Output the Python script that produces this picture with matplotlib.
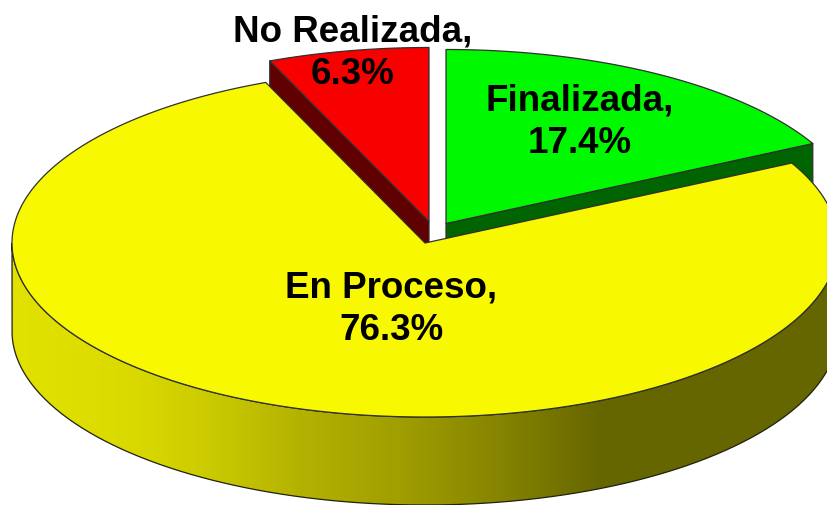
import numpy as np
import matplotlib
matplotlib.use("Agg")
import matplotlib.pyplot as plt
from matplotlib.patches import Polygon, PathPatch
from matplotlib.path import Path

categories = ["Finalizada", "En Proceso", "No Realizada"]
values = [17.4, 76.3, 6.3]

top_colors = ["#00F800", "#F8F800", "#F80000"]
side_colors = ["#006400", "#666600", "#600000"]
apexes = [(446, 223.5), (425, 243), (429, 221.5)]
label_pos = [(580, 122), (391.5, 309.5), (353, 53)]
RX, RY, DEPTH = 413, 174, 88

plt.rcParams["font.family"] = ["Liberation Sans", "DejaVu Sans"]
fig = plt.figure(figsize=(8.28, 5.05), dpi=100)
ax = fig.add_axes([0, 0, 1, 1])
ax.set_axis_off()


def arc(apex, a0, a1, dy=0, n=300):
    t = np.radians(np.linspace(a0, a1, n))
    return np.column_stack([apex[0] + RX * np.sin(t), apex[1] + dy - RY * np.cos(t)])


fracs = np.array(values) / np.sum(values) * 360
edges = np.concatenate([[0], np.cumsum(fracs)])
EDGE = dict(edgecolor="#303030", linewidth=0.9, joinstyle="round")


def top(i, z):
    pts = np.vstack([[apexes[i]], arc(apexes[i], edges[i], edges[i + 1])])
    ax.add_patch(Polygon(pts, closed=True, facecolor=top_colors[i], zorder=z, **EDGE))


def plane(i, angle, z):
    p = arc(apexes[i], angle, angle, n=1)[0]
    a = apexes[i]
    pts = [a, p, (p[0], p[1] + DEPTH), (a[0], a[1] + DEPTH)]
    ax.add_patch(Polygon(pts, closed=True, facecolor=side_colors[i], zorder=z, **EDGE))


# exploded slices behind the main one
plane(0, edges[1], 1)
top(0, 2)
plane(2, edges[2], 1)
top(2, 2)

# gradient outer wall of the large slice
upper = arc(apexes[1], 90, 270)
lower = arc(apexes[1], 270, 90, dy=DEPTH)
wall = np.vstack([upper, lower])
wall_path = Path(np.vstack([wall, wall[0]]), closed=False)
xs = np.arange(0, 829)
stop_x = [12, 130, 200, 300, 400, 500, 600, 840]
stop_c = [(226, 226, 0), (218, 218, 0), (205, 205, 0), (180, 178, 0),
          (160, 158, 0), (134, 132, 0), (102, 102, 0), (102, 102, 0)]
grad = np.stack([np.interp(xs, stop_x, [c[k] for c in stop_c]) for k in range(3)], axis=-1) / 255
im = ax.imshow(grad[None, :, :], extent=(0, 828, 505, 0), aspect="auto", zorder=3,
               interpolation="bilinear")
clip = PathPatch(wall_path, facecolor="none", edgecolor="none", transform=ax.transData)
ax.add_patch(clip)
im.set_clip_path(clip)
ax.add_patch(PathPatch(wall_path, facecolor="none", edgecolor="#202010", linewidth=0.9, zorder=4))

top(1, 5)

for name, v, (x, y) in zip(categories, values, label_pos):
    ax.text(x, y, f"{name},\n{v}%", ha="center", va="center", fontsize=26.5,
            fontweight="bold", color="black", linespacing=1.27, zorder=6)

ax.set_xlim(0, 828)
ax.set_ylim(505, 0)
fig.savefig("out.png", dpi=100)
